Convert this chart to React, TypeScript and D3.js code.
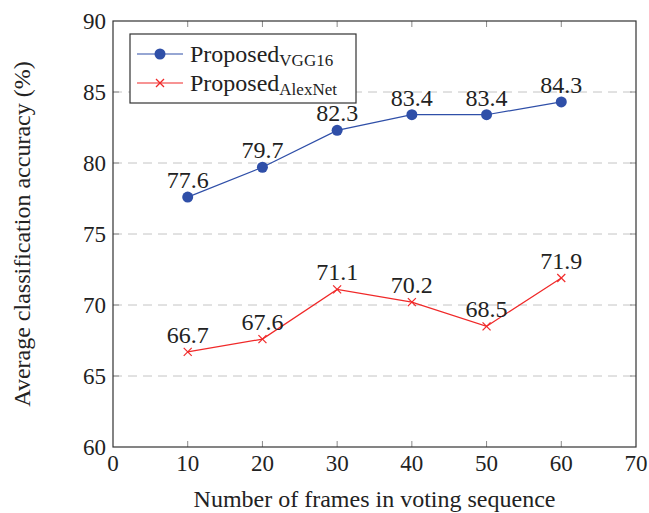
import React from "react";
import { scaleLinear, line } from "d3";

const frames = [10, 20, 30, 40, 50, 60];
const vgg16 = [77.6, 79.7, 82.3, 83.4, 83.4, 84.3];
const alexnet = [66.7, 67.6, 71.1, 70.2, 68.5, 71.9];
const xTicks = [0, 10, 20, 30, 40, 50, 60, 70];
const yTicks = [60, 65, 70, 75, 80, 85, 90];

const W = 649, H = 513;
const margin = { left: 113, right: 13, top: 21, bottom: 66 };
const FONT = "Liberation Serif";
const BLUE = "#2f4fa8";
const RED = "#f02828";

export default function App() {
  const x = scaleLinear().domain([0, 70]).range([margin.left, W - margin.right]);
  const y = scaleLinear().domain([60, 90]).range([H - margin.bottom, margin.top]);
  const gen = line<number>().x((_, i) => x(frames[i])).y(d => y(d));
  const x0 = x.range()[0], x1 = x.range()[1];
  const y0 = y.range()[0], y1 = y.range()[1];

  const cross = (cx: number, cy: number, key: string | number) => (
    <g key={key} stroke={RED} strokeWidth={1.2}>
      <line x1={cx - 4} y1={cy - 4} x2={cx + 4} y2={cy + 4} />
      <line x1={cx - 4} y1={cy + 4} x2={cx + 4} y2={cy - 4} />
    </g>
  );

  return (
    <svg width={W} height={H} style={{ position: "absolute", left: 0, top: 0, background: "#fff", fontFamily: FONT }}>
      {/* grid */}
      {yTicks.filter(t => t > 60 && t < 90).map(t => (
        <line key={"g" + t} x1={x0} x2={x1} y1={y(t)} y2={y(t)} stroke="#c4c4c4" strokeWidth={1} strokeDasharray="9 6" />
      ))}
      {/* ticks */}
      <g stroke="#8a8a8a" strokeWidth={1}>
        {xTicks.slice(1, -1).map(t => (
          <g key={"xt" + t}>
            <line x1={x(t)} x2={x(t)} y1={y0} y2={y0 - 6} />
            <line x1={x(t)} x2={x(t)} y1={y1} y2={y1 + 6} />
          </g>
        ))}
        {yTicks.slice(1, -1).map(t => (
          <g key={"yt" + t}>
            <line x1={x0} x2={x0 + 6} y1={y(t)} y2={y(t)} />
            <line x1={x1} x2={x1 - 6} y1={y(t)} y2={y(t)} />
          </g>
        ))}
      </g>
      <rect x={x0} y={y1} width={x1 - x0} height={y0 - y1} fill="none" stroke="#333" strokeWidth={1.2} />
      {/* tick labels */}
      {xTicks.map(t => (
        <text key={"xl" + t} x={x(t)} y={y0 + 24} textAnchor="middle" fontSize={23} fill="#222">{t}</text>
      ))}
      {yTicks.map(t => (
        <text key={"yl" + t} x={x0 - 7} y={y(t) + 8} textAnchor="end" fontSize={23} fill="#222">{t}</text>
      ))}
      {/* axis labels */}
      <text x={(x0 + x1) / 2} y={507} textAnchor="middle" fontSize={24} fill="#222">Number of frames in voting sequence</text>
      <text transform={`translate(30,${(y0 + y1) / 2}) rotate(-90)`} textAnchor="middle" fontSize={24} fill="#222">Average classification accuracy (%)</text>
      {/* series */}
      <path d={gen(vgg16) || ""} fill="none" stroke={BLUE} strokeWidth={1.2} />
      {vgg16.map((v, i) => (
        <circle key={"c" + i} cx={x(frames[i])} cy={y(v)} r={5.5} fill={BLUE} />
      ))}
      <path d={gen(alexnet) || ""} fill="none" stroke={RED} strokeWidth={1.2} />
      {alexnet.map((v, i) => cross(x(frames[i]), y(v), "x" + i))}
      {/* data labels */}
      {vgg16.map((v, i) => (
        <text key={"vl" + i} x={x(frames[i])} y={y(v) - 9} textAnchor="middle" fontSize={24} fill="#222">{v.toFixed(1)}</text>
      ))}
      {alexnet.map((v, i) => (
        <text key={"al" + i} x={x(frames[i])} y={y(v) - 9} textAnchor="middle" fontSize={24} fill="#222">{v.toFixed(1)}</text>
      ))}
      {/* legend */}
      <g>
        <rect x={130} y={34} width={226} height={69} fill="#fff" stroke="#333" strokeWidth={1.2} />
        <line x1={137} x2={183} y1={54} y2={54} stroke={BLUE} strokeWidth={1.2} />
        <circle cx={160} cy={54} r={5.5} fill={BLUE} />
        <text x={190} y={62} fontSize={24} fill="#222">Proposed<tspan fontSize={17} dy={4}>VGG16</tspan></text>
        <line x1={137} x2={183} y1={83} y2={83} stroke={RED} strokeWidth={1.2} />
        {cross(160, 83, "lx")}
        <text x={190} y={91} fontSize={24} fill="#222">Proposed<tspan fontSize={17} dy={4}>AlexNet</tspan></text>
      </g>
    </svg>
  );
}
